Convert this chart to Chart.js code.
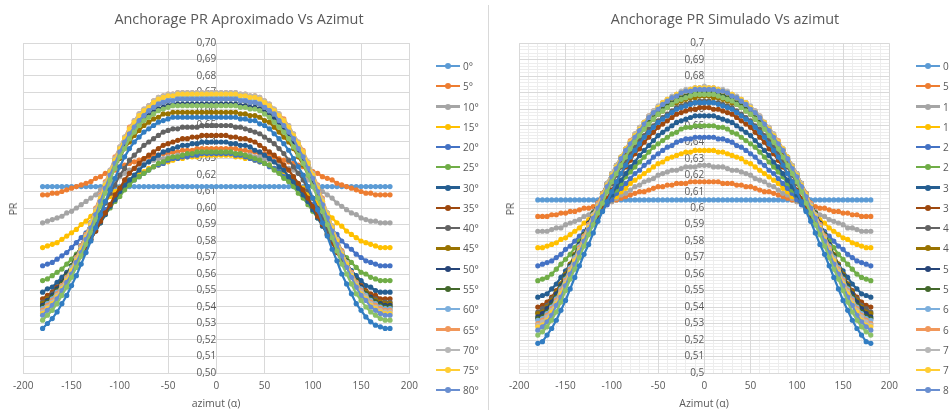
<!DOCTYPE html>
<html>
<head>
<meta charset="utf-8">
<script src="https://cdn.jsdelivr.net/npm/chart.js@4.4.1/dist/chart.umd.min.js"></script>
<style>
  html, body { margin: 0; padding: 0; background: #fff; }
  body { width: 949px; height: 410px; overflow: hidden; position: relative;
         font-family: 'Open Sans', sans-serif; color: #595959; }
  .panel { position: absolute; top: 0; width: 483px; height: 410px; }
  .panel canvas { position: absolute; left: 0; top: 0; }
  .title { position: absolute; top: 9px; font-size: 14.4px; white-space: nowrap; transform: translateX(-50%); }
  .xtitle { position: absolute; top: 396px; font-size: 10.5px; white-space: nowrap; transform: translateX(-50%); }
  .ytitle { position: absolute; top: 209px; font-size: 10.5px; white-space: nowrap; transform: translate(-50%, -50%) rotate(-90deg); }
  .legend { position: absolute; top: 0; }
  .leg-row { position: absolute; left: 0; height: 16px; display: flex; align-items: center; white-space: nowrap; }
  .leg-line { position: relative; width: 24px; height: 2.25px; }
  .leg-dot { position: absolute; left: 9px; top: -1.9px; width: 6px; height: 6px; border-radius: 50%; }
  .leg-text { margin-left: 3px; font-size: 10px; }
  .divider { position: absolute; left: 488px; top: 5px; width: 1px; height: 405px; background: #D9D9D9; }
</style>
</head>
<body>
<div class="panel" id="panelA" style="left:0">
  <canvas id="chartA" width="483" height="410"></canvas>
  <div class="title" style="left:239px">Anchorage PR Aproximado Vs Azimut</div>
  <div class="ytitle" style="left:13px">PR</div>
  <div class="xtitle" style="left:216px">azimut (α)</div>
  <div class="legend" id="legendA" style="left:436px"></div>
</div>
<div class="divider"></div>
<div class="panel" id="panelB" style="left:489px">
  <canvas id="chartB" width="483" height="410"></canvas>
  <div class="title" style="left:236px">Anchorage PR Simulado Vs azimut</div>
  <div class="ytitle" style="left:21px">PR</div>
  <div class="xtitle" style="left:215px">Azimut (α)</div>
  <div class="legend" id="legendB" style="left:427px"></div>
</div>
<script>
const azimut = [-180,-175,-170,-165,-160,-155,-150,-145,-140,-135,-130,-125,-120,-115,-110,-105,-100,-95,-90,-85,-80,-75,-70,-65,-60,-55,-50,-45,-40,-35,-30,-25,-20,-15,-10,-5,
  0,5,10,15,20,25,30,35,40,45,50,55,60,65,70,75,80,85,90,95,100,105,110,115,120,125,130,135,140,145,150,155,160,165,170,175,180];

const tiltsAprox = ['0°','5°','10°','15°','20°','25°','30°','35°','40°','45°','50°','55°','60°','65°','70°','75°','80°','85°','90°'];
const tiltsSimul = ['0','5','10','15','20','25','30','35','40','45','50','55','60','65','70','75','80','85','90'];

const yTicksMin = 0.5, yTicksMax = 0.7;

// PR x 1000, read off the "Aproximado" chart, azimut -180 .. 180
const ap00 = [613,613,613,613,613,613,613,613,613,613,613,613,613,613,613,613,613,613,613,613,613,613,613,613,613,613,613,613,613,613,613,613,613,613,613,613,
  613,613,613,613,613,613,613,613,613,613,613,613,613,613,613,613,613,613,613,613,613,613,613,613,613,613,613,613,613,613,613,613,613,613,613,613,613];
const ap05 = [608,608,609,609,610,611,612,613,614,615,616,618,619,621,622,623,625,626,627,628,629,630,631,632,632,633,633,634,634,635,635,635,636,636,636,636,
  636,636,636,636,636,635,635,634,634,633,633,632,631,630,629,628,627,626,625,624,622,621,619,618,617,615,614,613,612,611,610,609,609,608,608,608,608];
const ap10 = [591,592,593,594,595,597,598,600,602,604,606,608,611,613,615,617,619,621,623,624,626,627,628,629,630,630,631,631,632,632,632,632,633,633,633,633,
  633,633,633,633,633,632,632,632,631,631,630,629,628,627,625,624,623,621,619,617,615,613,610,608,606,603,601,599,597,596,594,593,592,592,591,591,591];
const ap15 = [576,577,578,579,581,583,585,587,590,592,595,598,601,604,607,610,612,615,617,619,621,622,624,625,626,627,628,629,630,630,631,631,631,632,632,632,
  632,632,632,632,631,631,630,630,629,628,627,626,624,623,621,619,617,614,612,609,606,603,600,597,594,591,589,586,584,582,580,579,578,577,576,576,576];
const ap20 = [565,566,567,569,571,573,576,579,582,585,588,592,595,599,602,606,609,612,615,617,619,621,623,625,626,627,629,630,630,631,631,632,632,633,633,633,
  633,633,633,633,632,632,631,630,629,628,627,625,624,622,619,617,614,612,609,605,602,598,595,591,587,584,580,577,575,572,570,568,567,566,565,565,565];
const ap25 = [556,557,559,561,563,566,569,572,576,579,583,587,591,596,600,604,607,611,614,617,619,621,623,625,627,628,630,631,631,632,633,633,634,634,634,634,
  634,634,634,634,633,633,632,631,630,629,627,626,623,621,618,616,613,609,606,602,598,594,590,585,581,577,573,570,567,564,561,560,558,557,556,556,556];
const ap30 = [549,551,552,555,558,561,564,568,572,577,581,586,591,596,601,605,610,614,617,620,623,626,628,630,632,634,635,636,637,638,638,639,639,640,640,640,
  640,640,640,639,639,638,638,637,635,634,632,630,628,625,623,619,616,612,608,604,599,594,589,584,579,574,570,566,562,559,556,553,552,550,549,549,549];
const ap35 = [545,547,549,552,555,558,562,566,571,576,581,586,592,597,602,608,612,617,621,624,627,630,632,634,636,638,639,640,641,642,642,643,643,644,644,644,
  644,644,644,643,643,642,642,641,640,638,636,634,632,629,626,623,619,615,611,606,601,595,590,584,579,573,568,564,560,556,553,550,548,547,545,545,545];
const ap40 = [543,545,548,551,554,558,563,568,573,579,584,590,597,603,609,614,620,624,629,632,635,638,640,642,644,646,647,648,648,649,649,649,649,650,650,650,
  650,650,650,650,649,649,648,647,646,645,643,641,639,636,633,629,625,621,617,611,606,600,593,587,581,575,569,564,559,555,551,549,546,545,543,543,543];
const ap45 = [542,545,547,551,555,560,565,571,577,584,590,597,604,611,618,625,630,636,640,644,647,650,652,654,655,657,657,658,658,658,658,658,658,658,658,658,
  658,658,658,658,658,657,657,656,656,655,653,652,649,646,643,640,636,631,626,620,614,608,600,593,586,579,572,567,561,556,552,549,546,544,543,542,542];
const ap50 = [541,544,547,551,555,560,565,571,577,584,591,599,606,613,620,627,633,639,644,648,651,654,656,658,660,661,662,663,663,663,663,663,663,663,663,663,
  663,663,663,663,663,662,662,661,661,660,658,656,654,651,648,644,640,635,630,624,617,610,603,595,588,581,573,567,561,556,552,548,546,543,542,541,541];
const ap55 = [540,543,546,550,554,559,565,571,577,584,591,599,607,614,622,629,635,641,646,650,654,657,659,661,663,664,665,666,666,666,666,666,666,666,666,666,
  666,666,666,666,666,665,665,664,664,663,661,659,657,654,650,647,642,637,632,626,619,612,604,596,589,581,574,568,561,556,551,548,545,543,541,540,540];
const ap60 = [539,542,545,549,553,558,564,570,577,584,591,599,607,614,622,629,636,642,647,651,654,657,660,662,664,665,666,667,667,667,667,667,667,667,667,667,
  667,667,667,667,667,666,666,665,665,664,662,660,658,655,651,647,643,638,633,626,620,612,604,596,589,581,573,567,561,555,551,547,544,542,540,539,539];
const ap65 = [538,541,544,548,553,558,563,570,577,584,591,600,608,616,623,631,637,643,649,653,657,660,662,665,667,668,669,669,670,670,670,670,670,670,670,670,
  670,670,670,670,670,669,669,668,668,667,665,663,660,657,654,650,645,640,635,628,621,614,606,597,589,581,574,567,561,555,550,546,543,541,539,538,538];
const ap70 = [537,540,543,547,552,557,563,569,576,583,591,599,607,615,623,630,637,643,648,653,657,660,662,665,667,668,669,669,670,670,670,670,670,670,670,670,
  670,670,670,670,670,669,669,668,668,667,665,663,660,657,653,650,645,640,634,628,621,613,605,597,589,581,573,567,560,554,549,546,542,540,538,537,537];
const ap75 = [536,539,542,546,551,556,562,568,575,582,590,598,606,614,622,629,636,642,648,652,656,659,661,664,666,667,668,668,669,669,669,669,669,669,669,669,
  669,669,669,669,669,668,668,667,667,666,664,662,659,656,653,649,644,639,634,627,620,612,604,596,588,580,572,566,559,553,548,545,541,539,537,536,536];
const ap80 = [535,538,541,545,550,555,560,567,573,581,588,596,604,612,620,627,634,640,645,649,653,656,659,661,663,664,665,665,666,666,666,666,666,666,666,666,
  666,666,666,666,666,665,665,664,664,663,661,659,657,653,650,646,642,636,631,624,618,610,602,594,586,578,571,564,558,552,547,544,540,538,536,535,535];
const ap85 = [532,535,538,542,547,552,558,564,571,578,585,593,601,609,617,624,631,636,642,646,650,653,655,657,659,660,661,662,662,662,662,662,662,662,662,662,
  662,662,662,662,662,661,661,660,660,659,657,655,652,649,646,642,637,632,627,620,613,606,598,590,582,574,566,560,554,548,544,540,537,535,533,532,532];
const ap90 = [527,530,533,537,542,547,553,559,566,573,580,588,596,604,611,618,625,631,636,640,643,646,648,650,652,653,654,655,655,655,655,655,655,655,655,655,
  655,655,655,655,655,654,654,653,653,651,650,648,645,642,639,635,630,625,620,613,606,599,591,583,575,568,560,554,548,542,538,534,531,529,528,527,527];

const si00 = [605,605,605,605,605,605,605,605,605,605,605,605,605,605,605,605,605,605,605,605,605,605,605,605,605,605,605,605,605,605,605,605,605,605,605,605,
  605,605,605,605,605,605,605,605,605,605,605,605,605,605,605,605,605,605,605,605,605,605,605,605,605,605,605,605,605,605,605,605,605,605,605,605,605];
const si05 = [595,595,595,596,596,597,597,598,598,599,600,600,601,602,603,604,604,605,606,607,608,609,610,610,611,612,613,613,614,614,615,615,615,616,616,616,
  616,616,616,616,615,615,615,614,614,613,613,612,611,610,610,609,608,607,606,605,604,604,603,602,601,600,600,599,598,598,597,597,596,596,595,595,595];
const si10 = [586,586,586,587,588,588,590,591,592,593,595,596,598,599,601,603,604,606,608,609,611,613,614,616,617,618,620,621,622,623,623,624,625,625,625,626,
  626,626,625,625,625,624,623,623,622,621,620,618,617,616,614,613,611,609,608,606,604,603,601,599,598,596,595,593,592,591,590,588,588,587,586,586,586];
const si15 = [576,576,577,578,579,581,582,584,586,588,591,593,595,598,600,603,605,607,610,612,615,617,619,621,623,625,627,628,630,631,632,633,634,634,635,635,
  635,635,635,634,634,633,632,631,630,628,627,625,623,621,619,617,615,612,610,607,605,603,600,598,595,593,591,588,586,584,582,581,579,578,577,576,576];
const si20 = [565,566,567,568,570,572,575,577,580,583,586,589,592,596,599,602,605,609,612,615,618,621,623,626,628,631,633,635,637,638,640,641,642,642,643,643,
  643,643,643,642,642,641,640,638,637,635,633,631,628,626,623,621,618,615,612,609,605,602,599,596,592,589,586,583,580,577,575,572,570,568,567,566,565];
const si25 = [556,557,558,560,563,566,569,572,576,580,584,588,592,596,600,604,608,611,615,619,622,625,628,631,634,637,639,641,643,645,646,648,649,649,650,650,
  650,650,650,649,649,648,646,645,643,641,639,637,634,631,628,625,622,619,615,611,608,604,600,596,592,588,584,580,576,572,569,566,563,560,558,557,556];
const si30 = [546,547,548,551,554,558,562,566,571,575,580,585,590,594,599,604,608,613,617,621,625,628,632,635,638,641,644,646,648,650,652,653,654,655,656,656,
  656,656,656,655,654,653,652,650,648,646,644,641,638,635,632,628,625,621,617,613,608,604,599,594,590,585,580,575,571,566,562,558,554,551,548,547,546];
const si35 = [540,541,543,546,550,554,559,564,569,575,580,585,591,596,601,606,611,616,621,625,629,633,636,640,643,646,649,651,653,655,657,658,659,660,660,661,
  661,661,660,660,659,658,657,655,653,651,649,646,643,640,636,633,629,625,621,616,611,606,601,596,591,585,580,575,569,564,559,554,550,546,543,541,540];
const si40 = [537,539,541,545,549,554,559,565,570,576,582,588,593,599,605,610,615,620,625,629,633,637,641,644,648,650,653,655,657,659,661,662,663,664,664,665,
  665,665,664,664,663,662,661,659,657,655,653,650,648,644,641,637,633,629,625,620,615,610,605,599,593,588,582,576,570,565,559,554,549,545,541,539,537];
const si45 = [536,537,540,544,549,554,560,566,572,578,584,591,597,603,608,614,619,624,629,634,638,641,645,648,652,654,657,659,661,663,664,665,666,667,667,668,
  668,668,667,667,666,665,664,663,661,659,657,654,652,648,645,641,638,634,629,624,619,614,608,603,597,591,584,578,572,566,560,554,549,544,540,537,536];
const si50 = [534,536,539,543,548,553,559,565,571,578,584,591,597,603,609,615,620,625,630,635,639,643,647,650,653,656,659,661,663,665,666,667,668,669,670,670,
  670,670,670,669,668,667,666,665,663,661,659,656,653,650,647,643,639,635,630,625,620,615,609,603,597,591,584,578,571,565,559,553,548,543,539,536,534];
const si55 = [533,534,537,541,546,552,558,564,571,577,584,590,597,603,609,615,621,626,631,635,640,644,648,651,654,657,660,662,664,666,667,669,670,670,671,671,
  671,671,671,670,670,669,667,666,664,662,660,657,654,651,648,644,640,635,631,626,621,615,609,603,597,590,584,577,571,564,558,552,546,541,537,534,533];
const si60 = [532,533,536,540,545,551,557,564,570,577,583,590,596,603,609,615,621,626,631,636,640,644,648,652,655,658,661,663,665,667,668,670,671,671,672,672,
  672,672,672,671,671,670,668,667,665,663,661,658,655,652,648,644,640,636,631,626,621,615,609,603,596,590,583,577,570,564,557,551,545,540,536,533,532];
const si65 = [530,532,535,539,544,550,556,563,569,576,583,590,596,603,609,615,621,626,631,636,641,645,649,652,656,659,661,664,666,667,669,670,671,672,673,673,
  673,673,673,672,671,670,669,667,666,664,661,659,656,652,649,645,641,636,631,626,621,615,609,603,596,590,583,576,569,563,556,550,544,539,535,532,530];
const si70 = [529,531,534,538,543,549,555,562,569,575,582,589,596,602,608,615,621,626,631,636,640,645,649,652,656,659,662,664,666,668,669,671,672,672,673,673,
  674,673,673,672,672,671,669,668,666,664,662,659,656,652,649,645,640,636,631,626,621,615,608,602,596,589,582,575,569,562,555,549,543,538,534,531,529];
const si75 = [528,529,532,537,542,548,554,561,568,574,581,588,595,601,608,614,620,625,631,636,640,644,648,652,655,658,661,664,666,667,669,670,671,672,673,673,
  673,673,673,672,671,670,669,667,666,664,661,658,655,652,648,644,640,636,631,625,620,614,608,601,595,588,581,574,568,561,554,548,542,537,532,529,528];
const si80 = [526,528,531,535,541,546,553,560,566,573,580,587,594,600,607,613,619,624,630,635,639,643,647,651,655,658,660,663,665,667,668,670,671,671,672,672,
  672,672,672,671,671,670,668,667,665,663,660,658,655,651,647,643,639,635,630,624,619,613,607,600,594,587,580,573,566,560,553,546,541,535,531,528,526];
const si85 = [523,525,528,532,537,543,550,557,563,570,577,584,590,597,603,610,616,621,626,631,636,640,644,648,651,654,657,659,661,663,665,666,667,668,669,669,
  669,669,669,668,667,666,665,663,661,659,657,654,651,648,644,640,636,631,626,621,616,610,603,597,590,584,577,570,563,557,550,543,537,532,528,525,523];
const si90 = [518,519,523,527,532,538,544,551,558,565,572,578,585,592,598,604,610,616,621,626,631,635,639,643,646,649,652,654,656,658,660,661,662,663,664,664,
  664,664,664,663,662,661,660,658,656,654,652,649,646,643,639,635,631,626,621,616,610,604,598,592,585,578,572,565,558,551,544,538,532,527,523,519,518];

const aproximado = [ap00, ap05, ap10, ap15, ap20, ap25, ap30, ap35, ap40, ap45, ap50, ap55, ap60, ap65, ap70, ap75, ap80, ap85, ap90];
const simulado = [si00, si05, si10, si15, si20, si25, si30, si35, si40, si45, si50, si55, si60, si65, si70, si75, si80, si85, si90];

// Excel's default series colours, in series order
const palette = ['#5B9BD5','#ED7D31','#A5A5A5','#FFC000','#4472C4','#70AD47','#255E91','#9E480E','#636363','#997300',
  '#264478','#43682B','#7CAFDD','#F1975A','#B7B7B7','#FFCD33','#698ED0','#8CC168','#327DC2'];

const FONT = "'Open Sans', sans-serif";
const TEXT = '#595959';
const GRID = '#D9D9D9';
const MINOR = '#EDEDED';

Chart.defaults.font.family = FONT;
Chart.defaults.color = TEXT;

function buildDatasets(series, names) {
  return series.map((vals, i) => ({
    label: names[i],
    data: azimut.map((a, k) => ({ x: a, y: vals[k] / 1000 })),
    showLine: true,
    borderColor: palette[i],
    backgroundColor: palette[i],
    pointBackgroundColor: palette[i],
    borderWidth: 2.25,
    pointRadius: 2.6,
    pointBorderWidth: 0,
    order: series.length - i   // later series drawn on top, like Excel
  }));
}

function makeChart(id, series, names, area, yFormat, withMinor) {
  const W = 483, H = 410;
  const scales = {};
  if (withMinor) {
    scales.xMinor = {
      type: 'linear', position: 'bottom', min: -200, max: 200,
      ticks: { stepSize: 10, display: false, autoSkip: false },
      grid: { color: MINOR, drawTicks: false }, border: { display: false },
      afterFit: (s) => { s.height = 0; }
    };
    scales.yMinor = {
      type: 'linear', position: 'left', min: yTicksMin, max: yTicksMax,
      ticks: { stepSize: 0.002, display: false, autoSkip: false },
      grid: { color: MINOR, drawTicks: false }, border: { display: false },
      afterFit: (s) => { s.width = 0; }
    };
  }
  scales.x = {
    type: 'linear', position: 'bottom', min: -200, max: 200,
    ticks: { stepSize: 50, autoSkip: false, maxRotation: 0, padding: 7, color: TEXT, font: { size: 10 } },
    grid: { color: GRID, drawTicks: false }, border: { color: GRID },
    afterFit: (s) => { s.height = H - area.bottom; }
  };
  scales.y = {
    type: 'linear', position: { x: 0 }, min: yTicksMin, max: yTicksMax,
    ticks: { stepSize: 0.01, autoSkip: false, padding: 9, color: TEXT, font: { size: 10 }, callback: yFormat },
    grid: { color: GRID, drawTicks: false }, border: { color: GRID },
    afterFit: (s) => { s.width = 0; }
  };

  return new Chart(document.getElementById(id), {
    type: 'scatter',
    data: { datasets: buildDatasets(series, names) },
    options: {
      responsive: false,
      animation: false,
      devicePixelRatio: 1,
      layout: { padding: { left: area.left, right: W - area.right, top: area.top, bottom: 0 } },
      plugins: { legend: { display: false }, tooltip: { enabled: false }, title: { display: false } },
      scales
    }
  });
}

function buildLegend(elId, names, count) {
  const el = document.getElementById(elId);
  names.slice(0, count).forEach((name, i) => {
    const row = document.createElement('div');
    row.className = 'leg-row';
    row.style.top = (66 + i * 20.27 - 8) + 'px';
    row.innerHTML = '<span class="leg-line" style="background:' + palette[i] + '">' +
      '<span class="leg-dot" style="background:' + palette[i] + '"></span></span>' +
      '<span class="leg-text">' + name + '</span>';
    el.appendChild(row);
  });
}

makeChart('chartA', aproximado, tiltsAprox,
  { left: 23.3, right: 409.3, top: 43, bottom: 373 },
  (v) => v.toFixed(2).replace('.', ','), false);

makeChart('chartB', simulado, tiltsSimul,
  { left: 30.3, right: 400.3, top: 43.3, bottom: 373 },
  (v) => String(Math.round(v * 100) / 100).replace('.', ','), true);

buildLegend('legendA', tiltsAprox, 17);
buildLegend('legendB', tiltsSimul, 17);
</script>
</body>
</html>
